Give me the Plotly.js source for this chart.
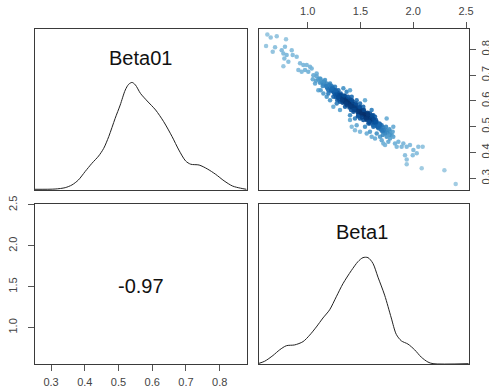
<!DOCTYPE html>
<html>
<head>
<meta charset="utf-8">
<script src="https://cdn.plot.ly/plotly-3.0.1.min.js"></script>
<style>html,body{margin:0;padding:0;background:#fff;}#chart{width:489px;height:392px;}</style>
</head>
<body>
<div id="chart"></div>
<script>
// ---- Data ----
var varNames = ["Beta01", "Beta1"];
var corrLabel = "-0.97";

// Density of Beta01 (diagonal, top-left)
var beta01DensX = [0.252,0.312,0.342,0.362,0.381,0.401,0.421,0.441,0.456,0.471,0.490,0.505,0.520,0.530,0.540,0.550,0.565,0.585,0.610,0.634,0.659,0.679,0.699,0.714,0.739,0.763,0.788,0.813,0.838,0.862,0.879];
var beta01DensY = [0.00,0.01,0.06,0.16,0.34,0.65,0.95,1.22,1.50,1.93,2.60,3.09,3.64,3.85,3.92,3.83,3.52,3.24,2.91,2.48,1.93,1.44,1.04,0.92,0.89,0.75,0.55,0.31,0.12,0.04,0.00];

// Density of Beta1 (diagonal, bottom-right)
var beta1DensX = [0.529,0.593,0.671,0.735,0.798,0.877,0.956,1.019,1.082,1.145,1.208,1.271,1.334,1.413,1.476,1.524,1.571,1.618,1.666,1.729,1.792,1.839,1.887,1.950,2.013,2.076,2.139,2.187,2.524];
var beta1DensY = [0.00,0.03,0.10,0.17,0.22,0.23,0.27,0.35,0.45,0.56,0.66,0.82,0.98,1.14,1.25,1.30,1.30,1.23,1.06,0.84,0.56,0.36,0.28,0.24,0.17,0.08,0.02,0.00,0.00];

// Scatter: Beta1 (x) vs Beta01 (y)
var scatBeta1 = [0.618,0.650,0.707,0.606,0.691,0.669,0.795,0.754,0.785,0.770,0.801,0.779,0.849,0.817,0.770,0.858,0.896,0.928,0.959,0.975,1.022,1.006,1.038,0.991,0.912,0.943,1.054,1.085,1.048,1.117,1.133,1.070,1.101,1.149,1.180,1.212,1.164,1.227,1.243,1.281,1.306,1.259,1.338,1.369,1.401,1.417,1.385,1.433,1.464,1.496,1.511,1.543,1.527,1.559,1.590,1.606,1.638,1.654,1.622,1.575,1.543,1.464,1.448,1.417,1.669,1.701,1.717,1.748,1.733,1.748,1.780,1.811,1.795,1.764,1.717,1.685,1.638,1.827,1.906,1.938,1.969,2.001,1.922,1.995,1.938,2.048,2.089,2.080,1.938,2.033,2.295,2.402,1.559,1.496,1.401,1.354,1.306,1.275,1.243,1.212,1.180,1.123,1.196,1.401,1.448,1.480,1.527,1.590,1.654,1.606,1.701,1.733,1.780,1.859,1.890,1.843,
1.085,1.079,1.101,1.117,1.123,1.149,1.155,1.142,1.180,1.186,1.174,1.196,1.212,1.221,1.205,1.227,1.243,1.250,1.237,1.259,1.243,1.275,1.281,1.269,1.291,1.275,1.306,1.313,1.300,1.322,1.306,1.338,1.344,1.332,1.354,1.338,1.347,1.369,1.376,1.363,1.385,1.369,1.379,1.401,1.407,1.395,1.417,1.401,1.411,1.433,1.439,1.426,1.448,1.433,1.464,1.471,1.458,1.480,1.464,1.496,1.502,1.490,1.512,1.496,1.527,1.534,1.521,1.543,1.527,1.537,1.559,1.565,1.553,1.575,1.559,1.568,1.590,1.597,1.584,1.606,1.590,1.622,1.628,1.616,1.638,1.622,1.654,1.660,1.647,1.669,1.685,1.692,1.679,1.701,1.717,1.723,1.711,1.748,1.755,1.742,1.780,1.774,1.811,1.805,
1.259,1.281,1.300,1.319,1.331,1.350,1.356,1.372,1.388,1.394,1.413,1.420,1.442,1.451,1.470,1.483,1.505,1.514,1.540,1.549,1.571,1.577,1.596,1.609,1.628,1.640,1.653,1.672,1.287,1.325,1.363,1.401,1.438,1.476,1.514,1.552,1.584,1.622,1.230,1.268,1.344,1.382,1.420,1.457,1.495,1.533,1.571,1.609,1.647,1.685];
var scatBeta01 = [0.858,0.846,0.851,0.813,0.808,0.791,0.839,0.797,0.810,0.784,0.778,0.765,0.797,0.752,0.735,0.778,0.771,0.746,0.739,0.720,0.733,0.713,0.726,0.739,0.720,0.713,0.700,0.707,0.684,0.687,0.674,0.668,0.642,0.629,0.655,0.668,0.681,0.642,0.616,0.603,0.623,0.655,0.649,0.636,0.642,0.616,0.590,0.578,0.603,0.590,0.565,0.603,0.578,0.539,0.552,0.565,0.539,0.519,0.506,0.513,0.500,0.506,0.487,0.500,0.494,0.506,0.481,0.532,0.474,0.461,0.481,0.500,0.468,0.442,0.435,0.461,0.455,0.435,0.435,0.423,0.429,0.410,0.390,0.390,0.373,0.423,0.423,0.339,0.355,0.397,0.332,0.278,0.474,0.481,0.545,0.578,0.565,0.590,0.578,0.603,0.616,0.642,0.629,0.526,0.532,0.545,0.526,0.481,0.474,0.461,0.448,0.429,0.455,0.442,0.423,0.423,
0.696,0.678,0.684,0.671,0.684,0.665,0.676,0.658,0.668,0.649,0.658,0.642,0.652,0.640,0.662,0.658,0.645,0.632,0.652,0.625,0.636,0.636,0.623,0.614,0.642,0.627,0.616,0.629,0.606,0.614,0.597,0.614,0.603,0.593,0.619,0.606,0.597,0.603,0.593,0.610,0.601,0.584,0.606,0.597,0.584,0.575,0.590,0.606,0.565,0.588,0.571,0.597,0.580,0.558,0.575,0.565,0.584,0.552,0.567,0.565,0.552,0.575,0.545,0.532,0.554,0.545,0.562,0.539,0.549,0.557,0.545,0.536,0.552,0.532,0.526,0.554,0.536,0.526,0.541,0.523,0.513,0.526,0.516,0.532,0.510,0.545,0.510,0.500,0.526,0.506,0.500,0.490,0.513,0.485,0.497,0.487,0.468,0.487,0.477,0.500,0.468,0.490,0.461,0.481,
0.642,0.632,0.623,0.621,0.610,0.609,0.601,0.596,0.593,0.588,0.580,0.575,0.578,0.567,0.558,0.561,0.557,0.552,0.548,0.541,0.539,0.544,0.531,0.536,0.528,0.519,0.503,0.500,0.614,0.603,0.590,0.580,0.565,0.541,0.536,0.532,0.519,0.500,0.647,0.642,0.621,0.616,0.603,0.590,0.578,0.565,0.549,0.544,0.518,0.510];

// Tick values / labels
var beta01Ticks = [0.3,0.4,0.5,0.6,0.7,0.8];
var beta01TickText = ["0.3","0.4","0.5","0.6","0.7","0.8"];
var beta1TopTicks = [1.0,1.5,2.0,2.5];
var beta1TopTickText = ["1.0","1.5","2.0","2.5"];
var beta1LeftTicks = [1.0,1.5,2.0,2.5];
var beta1LeftTickText = ["1.0","1.5","2.0","2.5"];

// Axis ranges (as in the reference)
var beta01Range = [0.2524, 0.881];
var beta1Range = [0.539, 2.528];

// ---- Local point density (like R's densCols) ----
function localDensity(xs, ys, xr, yr, bw) {
  var n = xs.length, d = new Array(n);
  var sx = xr[1]-xr[0], sy = yr[1]-yr[0];
  for (var i = 0; i < n; i++) {
    var s = 0;
    for (var j = 0; j < n; j++) {
      var dx = (xs[i]-xs[j])/sx/bw, dy = (ys[i]-ys[j])/sy/bw;
      s += Math.exp(-0.5*(dx*dx+dy*dy));
    }
    d[i] = s;
  }
  return d;
}
var scatDens = localDensity(scatBeta1, scatBeta01, beta1Range, [0.255,0.879], 0.035);
var dMax = Math.max.apply(null, scatDens);
var blues = [[0,"#9ECAE1"],[0.2,"#6BAED6"],[0.4,"#4292C6"],[0.6,"#2171B5"],[0.8,"#08519C"],[1,"#08306B"]];

// ---- Styling ----
var FONT = "Liberation Sans, Arial, sans-serif";
var frame = {showline:true, linecolor:"#3a3a3a", linewidth:1, mirror:true, showgrid:false, zeroline:false, fixedrange:true};
function ax(extra){ var o = {}; for (var k in frame) o[k]=frame[k]; for (var k2 in extra) o[k2]=extra[k2]; return o; }
var tickStyle = {ticks:"outside", ticklen:6, tickcolor:"#555", tickwidth:1, tickfont:{family:FONT, size:11, color:"#444"}};
function tk(extra){ var o = {}; for (var k in tickStyle) o[k]=tickStyle[k]; for (var k2 in extra) o[k2]=extra[k2]; return o; }

var col1 = [35/489, 247/489], col2 = [259/489, 469/489];
var row1 = [1-190/392, 1-29/392], row2 = [1-364/392, 1-204/392];

var traces = [
  {x:beta01DensX, y:beta01DensY, xaxis:"x", yaxis:"y", type:"scatter", mode:"lines", line:{color:"#222", width:1, shape:"spline", smoothing:0.8}, hoverinfo:"skip"},
  {x:scatBeta1, y:scatBeta01, xaxis:"x2", yaxis:"y2", type:"scatter", mode:"markers",
   marker:{size:4.5, color:scatDens, cmin:0, cmax:dMax, colorscale:blues, showscale:false, opacity:0.9, line:{width:0}}, hoverinfo:"skip"},
  {x:[], y:[], xaxis:"x3", yaxis:"y3", type:"scatter", mode:"markers", hoverinfo:"skip"},
  {x:beta1DensX, y:beta1DensY, xaxis:"x4", yaxis:"y4", type:"scatter", mode:"lines", line:{color:"#222", width:1, shape:"spline", smoothing:0.8}, hoverinfo:"skip"}
];

var layout = {
  width:489, height:392,
  margin:{l:0, r:0, t:0, b:0},
  paper_bgcolor:"#fff", plot_bgcolor:"#fff",
  showlegend:false,
  font:{family:FONT},
  xaxis: ax({domain:col1, anchor:"y", range:beta01Range, showticklabels:false, ticks:""}),
  yaxis: ax({domain:row1, anchor:"x", range:[-0.026,5.88], showticklabels:false, ticks:""}),
  xaxis2: ax(tk({domain:col2, anchor:"y2", range:beta1Range, side:"top", tickmode:"array", tickvals:beta1TopTicks, ticktext:beta1TopTickText, ticklabelstandoff:3})),
  yaxis2: ax(tk({domain:row1, anchor:"x2", range:[0.255,0.879], side:"right", tickmode:"array", tickvals:beta01Ticks, ticktext:beta01TickText, tickangle:-90, ticklabelstandoff:1})),
  xaxis3: ax(tk({domain:col1, anchor:"y3", range:beta01Range, tickmode:"array", tickvals:beta01Ticks, ticktext:beta01TickText, ticklabelstandoff:2})),
  yaxis3: ax(tk({domain:row2, anchor:"x3", range:[0.553,2.512], tickmode:"array", tickvals:beta1LeftTicks, ticktext:beta1LeftTickText, tickangle:-90, ticklabelstandoff:7})),
  xaxis4: ax({domain:col2, anchor:"y4", range:beta1Range, showticklabels:false, ticks:""}),
  yaxis4: ax({domain:row2, anchor:"x4", range:[-0.004,1.957], showticklabels:false, ticks:""}),
  annotations:[
    {text:varNames[0], xref:"paper", yref:"paper", x:140/489, y:1-58/392, xanchor:"center", yanchor:"middle", showarrow:false, font:{family:FONT, size:20, color:"#111"}},
    {text:corrLabel, xref:"paper", yref:"paper", x:141/489, y:1-286/392, xanchor:"center", yanchor:"middle", showarrow:false, font:{family:FONT, size:20, color:"#111"}},
    {text:varNames[1], xref:"paper", yref:"paper", x:362/489, y:1-232/392, xanchor:"center", yanchor:"middle", showarrow:false, font:{family:FONT, size:20, color:"#111"}}
  ]
};

Plotly.newPlot("chart", traces, layout, {staticPlot:true, displayModeBar:false});
</script>
</body>
</html>
